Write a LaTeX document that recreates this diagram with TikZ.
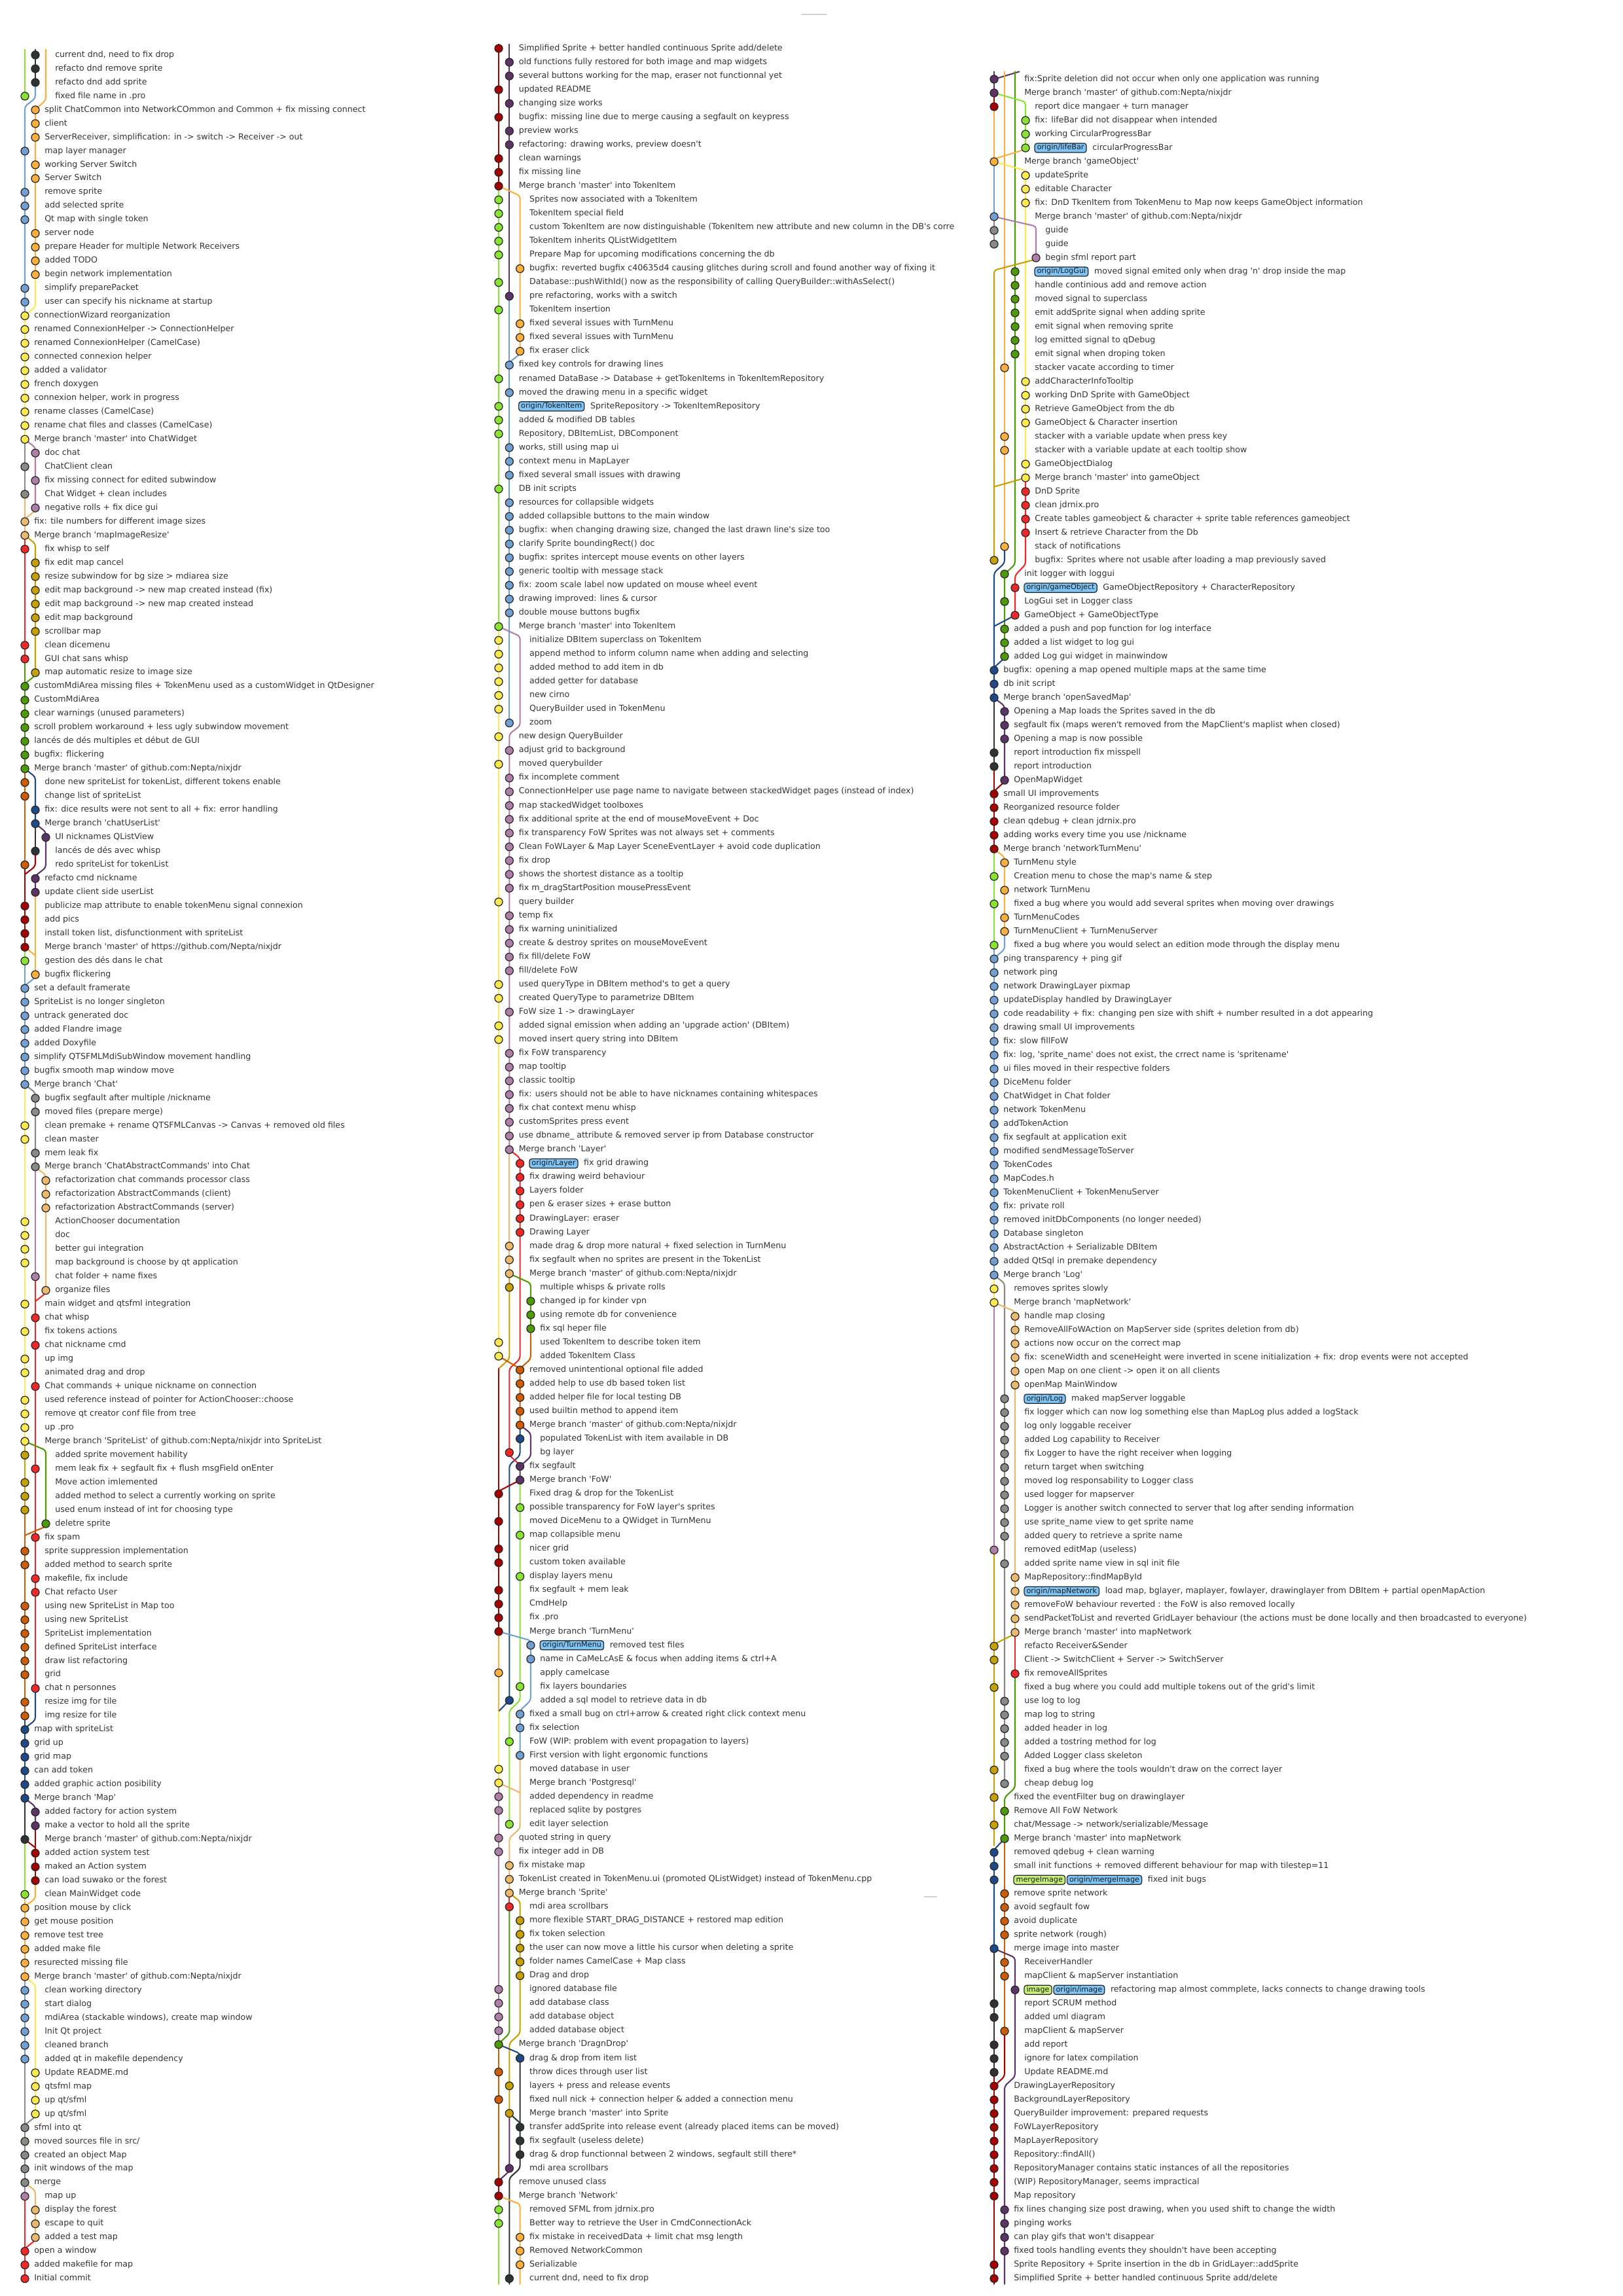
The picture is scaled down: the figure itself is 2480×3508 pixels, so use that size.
\documentclass[tikz,border=0pt]{standalone}
\usepackage{fontspec}
\newfontfamily\gitfont{DejaVu Sans}
\usetikzlibrary{positioning}

% Tango palette used by the history graph
\definecolor{cYel}{HTML}{FCE94F}
\definecolor{cOli}{HTML}{C4A000}
\definecolor{cOra}{HTML}{FCAF3E}
\definecolor{cDor}{HTML}{CE5C00}
\definecolor{cTan}{HTML}{E9B96E}
\definecolor{cLgr}{HTML}{8AE234}
\definecolor{cDgr}{HTML}{4E9A06}
\definecolor{cLbl}{HTML}{729FCF}
\definecolor{cDbl}{HTML}{204A87}
\definecolor{cLpu}{HTML}{AD7FA8}
\definecolor{cDpu}{HTML}{5C3566}
\definecolor{cRed}{HTML}{EF2929}
\definecolor{cDre}{HTML}{A40000}
\definecolor{cGra}{HTML}{888A85}
\definecolor{cDgy}{HTML}{2E3436}
\definecolor{refBlue}{HTML}{7EC4F7}
\definecolor{refGreen}{HTML}{C7F27A}

\newcount\rowno
% one commit: dot lane, dot colour, lanes in use, message
\newcommand{\gitrow}[4]{%
  \global\advance\rowno by 1 \edef\rowy{\the\rowno}%
  \node[cdot, fill=#2] (\colid d\rowy) at (#1,\rowy) {};
  \node[msg] (\colid m\rowy) at (#3-0.16,\rowy) {#4};}
% commit with a remote ref
\newcommand{\gitrowb}[5]{%
  \global\advance\rowno by 1 \edef\rowy{\the\rowno}%
  \node[cdot, fill=#2] (\colid d\rowy) at (#1,\rowy) {};
  \node[refname, fill=refBlue] (\colid r\rowy) at (#3-0.16,\rowy) {#4};
  \node[msg] (\colid m\rowy) at ([xshift=0.66mm]\colid r\rowy.east) {#5};}
% commit with a local and a remote ref
\newcommand{\gitrowbb}[6]{%
  \global\advance\rowno by 1 \edef\rowy{\the\rowno}%
  \node[cdot, fill=#2] (\colid d\rowy) at (#1,\rowy) {};
  \node[refname, fill=refGreen] (\colid g\rowy) at (#3-0.16,\rowy) {#4};
  \node[refname, fill=refBlue] (\colid r\rowy) at ([xshift=0.15mm]\colid g\rowy.east) {#5};
  \node[msg] (\colid m\rowy) at ([xshift=0.66mm]\colid r\rowy.east) {#6};}

\begin{document}
\begin{tikzpicture}[
  x=0.084677mm,
  y=-0.084677mm,
  line cap=round,
  cdot/.style={circle, draw=black!85, line width=0.3pt, minimum size=1.02mm, inner sep=0pt},
  msg/.style={anchor=west, inner sep=0pt, text=black!80,
    font=\gitfont\fontsize{3.04pt}{3.6pt}\selectfont, text height=2.25pt, text depth=0.7pt},
  refname/.style={anchor=west, draw=black!85, line width=0.3pt, rounded corners=0.3mm,
    inner xsep=0.3mm, inner ysep=0.14mm, text=black!90,
    font=\gitfont\fontsize{2.7pt}{3.2pt}\selectfont, text height=2.0pt, text depth=0.6pt},
  lane/.style={line width=0.5pt, rounded corners=0.35mm},
  faint/.style={gray!35, line width=0.4pt},
]

\fill[white] (0,0) rectangle (2480,3508);
\useasboundingbox (0,0) rectangle (2480,3508);

% stray marks of the screenshot
\draw[faint] (1225,22) -- (1263,22);
\draw[faint] (1412,2898) -- (1431,2898);

% ---------------- first column: oldest commits ----------------
\begin{scope}[shift={(38,63.03)}, x=1.3548mm, y=-1.7757mm]
\def\colid{a}\global\rowno=0
% lanes
\draw[lane, cLgr] (0,0.6) -- (0,4);
\draw[lane, cDgy] (1,0.6) -- (1,3);
\draw[lane, cLbl] (1,3) -- (1,4.15) -- (0,4.75) -- (0,20);
\draw[lane, cOra] (2,0.6) -- (2,4.3) -- (1,4.95) -- (1,17);
\draw[lane, cYel] (1,17) -- (1,19.35) -- (0,19.95);
\draw[lane, cYel] (0,20) -- (0,29);
\draw[lane, cGra] (0,29) -- (0,33);
\draw[lane, cLpu] (0,29) -- (1,29.6) -- (1,34);
\draw[lane, cTan] (0,33) -- (0,36);
\draw[lane, cTan] (1,34) -- (1,34.2) -- (0,34.8);
\draw[lane, cRed] (0,36) -- (0,45);
\draw[lane, cOli] (0,36) -- (1,36.6) -- (1,46);
\draw[lane, cDgr] (0,45) -- (0,53);
\draw[lane, cDgr] (1,46) -- (1,46.2) -- (0,46.8);
\draw[lane, cDor] (0,53) -- (0,60);
\draw[lane, cDbl] (0,53) -- (1,53.6) -- (1,57);
\draw[lane, cDgy] (1,57) -- (1,59);
\draw[lane, cDpu] (1,57) -- (2,57.6) -- (2,60.2) -- (1,60.8) -- (1,62);
\draw[lane, cDre] (1,59) -- (1,60.1) -- (0,60.7);
\draw[lane, cDre] (0,60) -- (0,66);
\draw[lane, cOra] (1,62) -- (1,68);
\draw[lane, cOra] (0,66) -- (1,66.6);
\draw[lane, cLgr] (0,66) -- (0,67);
\draw[lane, cLbl] (0,67) -- (0,76);
\draw[lane, cLbl] (1,68) -- (1,68.2) -- (0,68.8);
\draw[lane, cYel] (0,76) -- (0,102);
\draw[lane, cGra] (0,76) -- (1,76.6) -- (1,82);
\draw[lane, cLpu] (1,82) -- (1,90);
\draw[lane, cTan] (1,82) -- (2,82.6) -- (2,91);
\draw[lane, cRed] (2,91) -- (2,91.2) -- (1,91.8);
\draw[lane, cRed] (1,90) -- (1,120);
\draw[lane, cOli] (0,102) -- (0,107);
\draw[lane, cDgr] (0,102) -- (2,102.65) -- (2,108);
\draw[lane, cDor] (2,108) -- (2,108.2) -- (0,108.85);
\draw[lane, cDor] (0,107) -- (0,122);
\draw[lane, cDbl] (1,120) -- (1,122.3) -- (0,122.9);
\draw[lane, cDbl] (0,122) -- (0,128);
\draw[lane, cDgy] (0,128) -- (0,131);
\draw[lane, cDpu] (0,128) -- (1,128.6) -- (1,130);
\draw[lane, cDre] (1,130) -- (1,134);
\draw[lane, cDre] (0,131) -- (1,131.6);
\draw[lane, cLgr] (0,131) -- (0,135);
\draw[lane, cOra] (1,134) -- (1,135.3) -- (0,135.9);
\draw[lane, cOra] (0,135) -- (0,141);
\draw[lane, cLbl] (0,141) -- (0,147);
\draw[lane, cYel] (0,141) -- (1,141.6) -- (1,151);
\draw[lane, cGra] (1,151) -- (1,151.2) -- (0,151.8);
\draw[lane, cGra] (0,147) -- (0,156);
\draw[lane, cLpu] (0,156) -- (0,157);
\draw[lane, cTan] (0,156) -- (1,156.6) -- (1,160);
\draw[lane, cRed] (1,160) -- (1,160.2) -- (0,160.8);
\draw[lane, cRed] (0,157) -- (0,163);
% commits
\gitrow{1}{cDgy}{3}{current dnd, need to fix drop}
\gitrow{1}{cDgy}{3}{refacto dnd remove sprite}
\gitrow{1}{cDgy}{3}{refacto dnd add sprite}
\gitrow{0}{cLgr}{3}{fixed file name in .pro}
\gitrow{1}{cOra}{2}{split ChatCommon into NetworkCOmmon and Common + fix missing connect}
\gitrow{1}{cOra}{2}{client}
\gitrow{1}{cOra}{2}{ServerReceiver, simplification: in -> switch -> Receiver -> out}
\gitrow{0}{cLbl}{2}{map layer manager}
\gitrow{1}{cOra}{2}{working Server Switch}
\gitrow{1}{cOra}{2}{Server Switch}
\gitrow{0}{cLbl}{2}{remove sprite}
\gitrow{0}{cLbl}{2}{add selected sprite}
\gitrow{0}{cLbl}{2}{Qt map with single token}
\gitrow{1}{cOra}{2}{server node}
\gitrow{1}{cOra}{2}{prepare Header for multiple Network Receivers}
\gitrow{1}{cOra}{2}{added TODO}
\gitrow{1}{cOra}{2}{begin network implementation}
\gitrow{0}{cLbl}{2}{simplify preparePacket}
\gitrow{0}{cLbl}{2}{user can specify his nickname at startup}
\gitrow{0}{cYel}{1}{connectionWizard reorganization}
\gitrow{0}{cYel}{1}{renamed ConnexionHelper -> ConnectionHelper}
\gitrow{0}{cYel}{1}{renamed ConnexionHelper (CamelCase)}
\gitrow{0}{cYel}{1}{connected connexion helper}
\gitrow{0}{cYel}{1}{added a validator}
\gitrow{0}{cYel}{1}{french doxygen}
\gitrow{0}{cYel}{1}{connexion helper, work in progress}
\gitrow{0}{cYel}{1}{rename classes (CamelCase)}
\gitrow{0}{cYel}{1}{rename chat files and classes (CamelCase)}
\gitrow{0}{cYel}{1}{Merge branch 'master' into ChatWidget}
\gitrow{1}{cLpu}{2}{doc chat}
\gitrow{0}{cGra}{2}{ChatClient clean}
\gitrow{1}{cLpu}{2}{fix missing connect for edited subwindow}
\gitrow{0}{cGra}{2}{Chat Widget + clean includes}
\gitrow{1}{cLpu}{2}{negative rolls + fix dice gui}
\gitrow{0}{cTan}{1}{fix: tile numbers for different image sizes}
\gitrow{0}{cTan}{1}{Merge branch 'mapImageResize'}
\gitrow{0}{cRed}{2}{fix whisp to self}
\gitrow{1}{cOli}{2}{fix edit map cancel}
\gitrow{1}{cOli}{2}{resize subwindow for bg size > mdiarea size}
\gitrow{1}{cOli}{2}{edit map background -> new map created instead (fix)}
\gitrow{1}{cOli}{2}{edit map background -> new map created instead}
\gitrow{1}{cOli}{2}{edit map background}
\gitrow{1}{cOli}{2}{scrollbar map}
\gitrow{0}{cRed}{2}{clean dicemenu}
\gitrow{0}{cRed}{2}{GUI chat sans whisp}
\gitrow{1}{cOli}{2}{map automatic resize to image size}
\gitrow{0}{cDgr}{1}{customMdiArea missing files + TokenMenu used as a customWidget in QtDesigner}
\gitrow{0}{cDgr}{1}{CustomMdiArea}
\gitrow{0}{cDgr}{1}{clear warnings (unused parameters)}
\gitrow{0}{cDgr}{1}{scroll problem workaround + less ugly subwindow movement}
\gitrow{0}{cDgr}{1}{lancés de dés multiples et début de GUI}
\gitrow{0}{cDgr}{1}{bugfix: flickering}
\gitrow{0}{cDgr}{1}{Merge branch 'master' of github.com:Nepta/nixjdr}
\gitrow{0}{cDor}{2}{done new spriteList for tokenList, different tokens enable}
\gitrow{0}{cDor}{2}{change list of spriteList}
\gitrow{1}{cDbl}{2}{fix: dice results were not sent to all + fix: error handling}
\gitrow{1}{cDbl}{2}{Merge branch 'chatUserList'}
\gitrow{2}{cDpu}{3}{UI nicknames QListView}
\gitrow{1}{cDgy}{3}{lancés de dés avec whisp}
\gitrow{0}{cDor}{3}{redo spriteList for tokenList}
\gitrow{1}{cDpu}{2}{refacto cmd nickname}
\gitrow{1}{cDpu}{2}{update client side userList}
\gitrow{0}{cDre}{2}{publicize map attribute to enable tokenMenu signal connexion}
\gitrow{0}{cDre}{2}{add pics}
\gitrow{0}{cDre}{2}{install token list, disfunctionment with spriteList}
\gitrow{0}{cDre}{2}{Merge branch 'master' of https://github.com/Nepta/nixjdr}
\gitrow{0}{cLgr}{2}{gestion des dés dans le chat}
\gitrow{1}{cOra}{2}{bugfix flickering}
\gitrow{0}{cLbl}{1}{set a default framerate}
\gitrow{0}{cLbl}{1}{SpriteList is no longer singleton}
\gitrow{0}{cLbl}{1}{untrack generated doc}
\gitrow{0}{cLbl}{1}{added Flandre image}
\gitrow{0}{cLbl}{1}{added Doxyfile}
\gitrow{0}{cLbl}{1}{simplify QTSFMLMdiSubWindow movement handling}
\gitrow{0}{cLbl}{1}{bugfix smooth map window move}
\gitrow{0}{cLbl}{1}{Merge branch 'Chat'}
\gitrow{1}{cGra}{2}{bugfix segfault after multiple /nickname}
\gitrow{1}{cGra}{2}{moved files (prepare merge)}
\gitrow{0}{cYel}{2}{clean premake + rename QTSFMLCanvas -> Canvas + removed old files}
\gitrow{0}{cYel}{2}{clean master}
\gitrow{1}{cGra}{2}{mem leak fix}
\gitrow{1}{cGra}{2}{Merge branch 'ChatAbstractCommands' into Chat}
\gitrow{2}{cTan}{3}{refactorization chat commands processor class}
\gitrow{2}{cTan}{3}{refactorization AbstractCommands (client)}
\gitrow{2}{cTan}{3}{refactorization AbstractCommands (server)}
\gitrow{0}{cYel}{3}{ActionChooser documentation}
\gitrow{0}{cYel}{3}{doc}
\gitrow{0}{cYel}{3}{better gui integration}
\gitrow{0}{cYel}{3}{map background is choose by qt application}
\gitrow{1}{cLpu}{3}{chat folder + name fixes}
\gitrow{2}{cTan}{3}{organize files}
\gitrow{0}{cYel}{2}{main widget and qtsfml integration}
\gitrow{1}{cRed}{2}{chat whisp}
\gitrow{0}{cYel}{2}{fix tokens actions}
\gitrow{1}{cRed}{2}{chat nickname cmd}
\gitrow{0}{cYel}{2}{up img}
\gitrow{0}{cYel}{2}{animated drag and drop}
\gitrow{1}{cRed}{2}{Chat commands + unique nickname on connection}
\gitrow{0}{cYel}{2}{used reference instead of pointer for ActionChooser::choose}
\gitrow{0}{cYel}{2}{remove qt creator conf file from tree}
\gitrow{0}{cYel}{2}{up .pro}
\gitrow{0}{cYel}{2}{Merge branch 'SpriteList' of github.com:Nepta/nixjdr into SpriteList}
\gitrow{0}{cOli}{3}{added sprite movement hability}
\gitrow{1}{cRed}{3}{mem leak fix + segfault fix + flush msgField onEnter}
\gitrow{0}{cOli}{3}{Move action imlemented}
\gitrow{0}{cOli}{3}{added method to select a currently working on sprite}
\gitrow{0}{cOli}{3}{used enum instead of int for choosing type}
\gitrow{2}{cDgr}{3}{deletre sprite}
\gitrow{1}{cRed}{2}{fix spam}
\gitrow{0}{cDor}{2}{sprite suppression implementation}
\gitrow{0}{cDor}{2}{added method to search sprite}
\gitrow{1}{cRed}{2}{makefile, fix include}
\gitrow{1}{cRed}{2}{Chat refacto User}
\gitrow{0}{cDor}{2}{using new SpriteList in Map too}
\gitrow{0}{cDor}{2}{using new SpriteList}
\gitrow{0}{cDor}{2}{SpriteList implementation}
\gitrow{0}{cDor}{2}{defined SpriteList interface}
\gitrow{0}{cDor}{2}{draw list refactoring}
\gitrow{0}{cDor}{2}{grid}
\gitrow{1}{cRed}{2}{chat n personnes}
\gitrow{0}{cDor}{2}{resize img for tile}
\gitrow{0}{cDor}{2}{img resize for tile}
\gitrow{0}{cDbl}{1}{map with spriteList}
\gitrow{0}{cDbl}{1}{grid up}
\gitrow{0}{cDbl}{1}{grid map}
\gitrow{0}{cDbl}{1}{can add token}
\gitrow{0}{cDbl}{1}{added graphic action posibility}
\gitrow{0}{cDbl}{1}{Merge branch 'Map'}
\gitrow{1}{cDpu}{2}{added factory for action system}
\gitrow{1}{cDpu}{2}{make a vector to hold all the sprite}
\gitrow{0}{cDgy}{2}{Merge branch 'master' of github.com:Nepta/nixjdr}
\gitrow{1}{cDre}{2}{added action system test}
\gitrow{1}{cDre}{2}{maked an Action system}
\gitrow{1}{cDre}{2}{can load suwako or the forest}
\gitrow{0}{cLgr}{2}{clean MainWidget code}
\gitrow{0}{cOra}{1}{position mouse by click}
\gitrow{0}{cOra}{1}{get mouse position}
\gitrow{0}{cOra}{1}{remove test tree}
\gitrow{0}{cOra}{1}{added make file}
\gitrow{0}{cOra}{1}{resurected missing file}
\gitrow{0}{cOra}{1}{Merge branch 'master' of github.com:Nepta/nixjdr}
\gitrow{0}{cLbl}{2}{clean working directory}
\gitrow{0}{cLbl}{2}{start dialog}
\gitrow{0}{cLbl}{2}{mdiArea (stackable windows), create map window}
\gitrow{0}{cLbl}{2}{Init Qt project}
\gitrow{0}{cLbl}{2}{cleaned branch}
\gitrow{0}{cLbl}{2}{added qt in makefile dependency}
\gitrow{1}{cYel}{2}{Update README.md}
\gitrow{1}{cYel}{2}{qtsfml map}
\gitrow{1}{cYel}{2}{up qt/sfml}
\gitrow{1}{cYel}{2}{up qt/sfml}
\gitrow{0}{cGra}{1}{sfml into qt}
\gitrow{0}{cGra}{1}{moved sources file in src/}
\gitrow{0}{cGra}{1}{created an object Map}
\gitrow{0}{cGra}{1}{init windows of the map}
\gitrow{0}{cGra}{1}{merge}
\gitrow{0}{cLpu}{2}{map up}
\gitrow{1}{cTan}{2}{display the forest}
\gitrow{1}{cTan}{2}{escape to quit}
\gitrow{1}{cTan}{2}{added a test map}
\gitrow{0}{cRed}{1}{open a window}
\gitrow{0}{cRed}{1}{added makefile for map}
\gitrow{0}{cRed}{1}{Initial commit}
\end{scope}

% ---------------- second column ----------------
\begin{scope}[shift={(762,52.97)}, x=1.3802mm, y=-1.7808mm]
\def\colid{b}\global\rowno=0
% lanes
\draw[lane, cDre] (0,0.7) -- (0,11);
\draw[lane, cDpu] (1,0.7) -- (1,19);
\draw[lane, cLgr] (0,11) -- (0,43);
\draw[lane, cOra] (0,11) -- (2,11.7) -- (2,23);
\draw[lane, cLbl] (2,23) -- (2,23.2) -- (1,23.8);
\draw[lane, cLbl] (1,19) -- (1,50);
\draw[lane, cYel] (0,43) -- (0,96);
\draw[lane, cLpu] (0,43) -- (2,43.7) -- (2,50.2) -- (1,50.8) -- (1,81);
\draw[lane, cTan] (1,81) -- (1,90);
\draw[lane, cRed] (1,81) -- (2,81.6) -- (2,96.2) -- (1,96.9) -- (1,103);
\draw[lane, cOli] (1,90) -- (1,96.2) -- (0,96.9);
\draw[lane, cDgr] (1,90) -- (3,90.7) -- (3,94);
\draw[lane, cDor] (3,94) -- (3,96.2) -- (2,96.9) -- (2,101);
\draw[lane, cDor] (0,96) -- (2,96.9);
\draw[lane, cDre] (0,96.9) -- (0,116);
\draw[lane, cDbl] (2,101) -- (2,103.2) -- (1,103.9) -- (1,121);
\draw[lane, cDpu] (2,101) -- (3,101.6) -- (3,103.3) -- (2,104) -- (2,105);
\draw[lane, cRed] (1,103) -- (1,103.2) -- (2,103.9);
\draw[lane, cDre] (2,105) -- (0,105.8);
\draw[lane, cLgr] (2,105) -- (2,121) -- (1,121.75) -- (1,130);
\draw[lane, cOra] (0,116) -- (0,121.8);
\draw[lane, cLbl] (0,116) -- (3,116.65) -- (3,121) -- (2,121.75) -- (2,125);
\draw[lane, cDbl] (1,121) -- (0,121.8);
\draw[lane, cYel] (0,121.8) -- (0,127);
\draw[lane, cTan] (2,125) -- (2,130.3) -- (1,131) -- (1,135);
\draw[lane, cTan] (0,127) -- (2,127.7);
\draw[lane, cLpu] (0,127) -- (0,146);
\draw[lane, cRed] (1,135) -- (1,136);
\draw[lane, cOli] (1,135) -- (2,135.6) -- (2,145.2) -- (1,145.9) -- (1,151);
\draw[lane, cDgr] (1,136) -- (1,145.2) -- (0,145.95);
\draw[lane, cDor] (0,146) -- (0,155.9);
\draw[lane, cDbl] (0,146) -- (2,146.65) -- (2,147);
\draw[lane, cDgy] (2,147) -- (2,155) -- (1,155.7) -- (1,163.4);
\draw[lane, cDgy] (1,151) -- (2,151.7);
\draw[lane, cDpu] (1,151) -- (1,155.2) -- (0,155.9);
\draw[lane, cDre] (0,155.9) -- (0,157);
\draw[lane, cLgr] (0,157) -- (0,163.4);
\draw[lane, cOra] (0,157) -- (2,157.6) -- (2,163.4);
% commits
\gitrow{0}{cDre}{2}{Simplified Sprite + better handled continuous Sprite add/delete}
\gitrow{1}{cDpu}{2}{old functions fully restored for both image and map widgets}
\gitrow{1}{cDpu}{2}{several buttons working for the map, eraser not functionnal yet}
\gitrow{0}{cDre}{2}{updated README}
\gitrow{1}{cDpu}{2}{changing size works}
\gitrow{0}{cDre}{2}{bugfix: missing line due to merge causing a segfault on keypress}
\gitrow{1}{cDpu}{2}{preview works}
\gitrow{1}{cDpu}{2}{refactoring: drawing works, preview doesn't}
\gitrow{0}{cDre}{2}{clean warnings}
\gitrow{0}{cDre}{2}{fix missing line}
\gitrow{0}{cDre}{2}{Merge branch 'master' into TokenItem}
\gitrow{0}{cLgr}{3}{Sprites now associated with a TokenItem}
\gitrow{0}{cLgr}{3}{TokenItem special field}
\gitrow{0}{cLgr}{3}{custom TokenItem are now distinguishable (TokenItem new attribute and new column in the DB's corre}
\gitrow{0}{cLgr}{3}{TokenItem inherits QListWidgetItem}
\gitrow{0}{cLgr}{3}{Prepare Map for upcoming modifications concerning the db}
\gitrow{2}{cOra}{3}{bugfix: reverted bugfix c40635d4 causing glitches during scroll and found another way of fixing it}
\gitrow{0}{cLgr}{3}{Database::pushWithId() now as the responsibility of calling QueryBuilder::withAsSelect()}
\gitrow{1}{cDpu}{3}{pre refactoring, works with a switch}
\gitrow{0}{cLgr}{3}{TokenItem insertion}
\gitrow{2}{cOra}{3}{fixed several issues with TurnMenu}
\gitrow{2}{cOra}{3}{fixed several issues with TurnMenu}
\gitrow{2}{cOra}{3}{fix eraser click}
\gitrow{1}{cLbl}{2}{fixed key controls for drawing lines}
\gitrow{0}{cLgr}{2}{renamed DataBase -> Database + getTokenItems in TokenItemRepository}
\gitrow{1}{cLbl}{2}{moved the drawing menu in a specific widget}
\gitrowb{0}{cLgr}{2}{origin/TokenItem}{SpriteRepository -> TokenItemRepository}
\gitrow{0}{cLgr}{2}{added \& modified DB tables}
\gitrow{0}{cLgr}{2}{Repository, DBItemList, DBComponent}
\gitrow{1}{cLbl}{2}{works, still using map ui}
\gitrow{1}{cLbl}{2}{context menu in MapLayer}
\gitrow{1}{cLbl}{2}{fixed several small issues with drawing}
\gitrow{0}{cLgr}{2}{DB init scripts}
\gitrow{1}{cLbl}{2}{resources for collapsible widgets}
\gitrow{1}{cLbl}{2}{added collapsible buttons to the main window}
\gitrow{1}{cLbl}{2}{bugfix: when changing drawing size, changed the last drawn line's size too}
\gitrow{1}{cLbl}{2}{clarify Sprite boundingRect() doc}
\gitrow{1}{cLbl}{2}{bugfix: sprites intercept mouse events on other layers}
\gitrow{1}{cLbl}{2}{generic tooltip with message stack}
\gitrow{1}{cLbl}{2}{fix: zoom scale label now updated on mouse wheel event}
\gitrow{1}{cLbl}{2}{drawing improved: lines \& cursor}
\gitrow{1}{cLbl}{2}{double mouse buttons bugfix}
\gitrow{0}{cLgr}{2}{Merge branch 'master' into TokenItem}
\gitrow{0}{cYel}{3}{initialize DBItem superclass on TokenItem}
\gitrow{0}{cYel}{3}{append method to inform column name when adding and selecting}
\gitrow{0}{cYel}{3}{added method to add item in db}
\gitrow{0}{cYel}{3}{added getter for database}
\gitrow{0}{cYel}{3}{new cirno}
\gitrow{0}{cYel}{3}{QueryBuilder used in TokenMenu}
\gitrow{1}{cLbl}{3}{zoom}
\gitrow{0}{cYel}{2}{new design QueryBuilder}
\gitrow{1}{cLpu}{2}{adjust grid to background}
\gitrow{0}{cYel}{2}{moved querybuilder}
\gitrow{1}{cLpu}{2}{fix incomplete comment}
\gitrow{1}{cLpu}{2}{ConnectionHelper use page name to navigate between stackedWidget pages (instead of index)}
\gitrow{1}{cLpu}{2}{map stackedWidget toolboxes}
\gitrow{1}{cLpu}{2}{fix additional sprite at the end of mouseMoveEvent + Doc}
\gitrow{1}{cLpu}{2}{fix transparency FoW Sprites was not always set + comments}
\gitrow{1}{cLpu}{2}{Clean FoWLayer \& Map Layer SceneEventLayer + avoid code duplication}
\gitrow{1}{cLpu}{2}{fix drop}
\gitrow{1}{cLpu}{2}{shows the shortest distance as a tooltip}
\gitrow{1}{cLpu}{2}{fix m\_dragStartPosition mousePressEvent}
\gitrow{0}{cYel}{2}{query builder}
\gitrow{1}{cLpu}{2}{temp fix}
\gitrow{1}{cLpu}{2}{fix warning uninitialized}
\gitrow{1}{cLpu}{2}{create \& destroy sprites on mouseMoveEvent}
\gitrow{1}{cLpu}{2}{fix fill/delete FoW}
\gitrow{1}{cLpu}{2}{fill/delete FoW}
\gitrow{0}{cYel}{2}{used queryType in DBItem method's to get a query}
\gitrow{0}{cYel}{2}{created QueryType to parametrize DBItem}
\gitrow{1}{cLpu}{2}{FoW size 1 -> drawingLayer}
\gitrow{0}{cYel}{2}{added signal emission when adding an 'upgrade action' (DBItem)}
\gitrow{0}{cYel}{2}{moved insert query string into DBItem}
\gitrow{1}{cLpu}{2}{fix FoW transparency}
\gitrow{1}{cLpu}{2}{map tooltip}
\gitrow{1}{cLpu}{2}{classic tooltip}
\gitrow{1}{cLpu}{2}{fix: users should not be able to have nicknames containing whitespaces}
\gitrow{1}{cLpu}{2}{fix chat context menu whisp}
\gitrow{1}{cLpu}{2}{customSprites press event}
\gitrow{1}{cLpu}{2}{use dbname\_ attribute \& removed server ip from Database constructor}
\gitrow{1}{cLpu}{2}{Merge branch 'Layer'}
\gitrowb{2}{cRed}{3}{origin/Layer}{fix grid drawing}
\gitrow{2}{cRed}{3}{fix drawing weird behaviour}
\gitrow{2}{cRed}{3}{Layers folder}
\gitrow{2}{cRed}{3}{pen \& eraser sizes + erase button}
\gitrow{2}{cRed}{3}{DrawingLayer: eraser}
\gitrow{2}{cRed}{3}{Drawing Layer}
\gitrow{1}{cTan}{3}{made drag \& drop more natural + fixed selection in TurnMenu}
\gitrow{1}{cTan}{3}{fix segfault when no sprites are present in the TokenList}
\gitrow{1}{cTan}{3}{Merge branch 'master' of github.com:Nepta/nixjdr}
\gitrow{1}{cOli}{4}{multiple whisps \& private rolls}
\gitrow{3}{cDgr}{4}{changed ip for kinder vpn}
\gitrow{3}{cDgr}{4}{using remote db for convenience}
\gitrow{3}{cDgr}{4}{fix sql heper file}
\gitrow{0}{cYel}{4}{used TokenItem to describe token item}
\gitrow{0}{cYel}{4}{added TokenItem Class}
\gitrow{2}{cDor}{3}{removed unintentional optional file added}
\gitrow{2}{cDor}{3}{added help to use db based token list}
\gitrow{2}{cDor}{3}{added helper file for local testing DB}
\gitrow{2}{cDor}{3}{used builtin method to append item}
\gitrow{2}{cDor}{3}{Merge branch 'master' of github.com:Nepta/nixjdr}
\gitrow{2}{cDbl}{4}{populated TokenList with item available in DB}
\gitrow{1}{cRed}{4}{bg layer}
\gitrow{2}{cDpu}{3}{fix segfault}
\gitrow{2}{cDpu}{3}{Merge branch 'FoW'}
\gitrow{0}{cDre}{3}{Fixed drag \& drop for the TokenList}
\gitrow{2}{cLgr}{3}{possible transparency for FoW layer's sprites}
\gitrow{0}{cDre}{3}{moved DiceMenu to a QWidget in TurnMenu}
\gitrow{2}{cLgr}{3}{map collapsible menu}
\gitrow{0}{cDre}{3}{nicer grid}
\gitrow{0}{cDre}{3}{custom token available}
\gitrow{2}{cLgr}{3}{display layers menu}
\gitrow{0}{cDre}{3}{fix segfault + mem leak}
\gitrow{0}{cDre}{3}{CmdHelp}
\gitrow{0}{cDre}{3}{fix .pro}
\gitrow{0}{cDre}{3}{Merge branch 'TurnMenu'}
\gitrowb{3}{cLbl}{4}{origin/TurnMenu}{removed test files}
\gitrow{3}{cLbl}{4}{name in CaMeLcAsE \& focus when adding items \& ctrl+A}
\gitrow{0}{cOra}{4}{apply camelcase}
\gitrow{2}{cLgr}{4}{fix layers boundaries}
\gitrow{1}{cDbl}{4}{added a sql model to retrieve data in db}
\gitrow{2}{cLbl}{3}{fixed a small bug on ctrl+arrow \& created right click context menu}
\gitrow{2}{cLbl}{3}{fix selection}
\gitrow{1}{cLgr}{3}{FoW (WIP: problem with event propagation to layers)}
\gitrow{2}{cLbl}{3}{First version with light ergonomic functions}
\gitrow{0}{cYel}{3}{moved database in user}
\gitrow{0}{cYel}{3}{Merge branch 'Postgresql'}
\gitrow{0}{cLpu}{3}{added dependency in readme}
\gitrow{0}{cLpu}{3}{replaced sqlite by postgres}
\gitrow{1}{cLgr}{3}{edit layer selection}
\gitrow{0}{cLpu}{2}{quoted string in query}
\gitrow{0}{cLpu}{2}{fix integer add in DB}
\gitrow{1}{cTan}{2}{fix mistake map}
\gitrow{1}{cTan}{2}{TokenList created in TokenMenu.ui (promoted QListWidget) instead of TokenMenu.cpp}
\gitrow{1}{cTan}{2}{Merge branch 'Sprite'}
\gitrow{1}{cRed}{3}{mdi area scrollbars}
\gitrow{2}{cOli}{3}{more flexible START\_DRAG\_DISTANCE + restored map edition}
\gitrow{2}{cOli}{3}{fix token selection}
\gitrow{2}{cOli}{3}{the user can now move a little his cursor when deleting a sprite}
\gitrow{2}{cOli}{3}{folder names CamelCase + Map class}
\gitrow{2}{cOli}{3}{Drag and drop}
\gitrow{0}{cLpu}{3}{ignored database file}
\gitrow{0}{cLpu}{3}{add database class}
\gitrow{0}{cLpu}{3}{add database object}
\gitrow{0}{cLpu}{3}{added database object}
\gitrow{0}{cDgr}{2}{Merge branch 'DragnDrop'}
\gitrow{2}{cDbl}{3}{drag \& drop from item list}
\gitrow{0}{cDor}{3}{throw dices through user list}
\gitrow{1}{cOli}{3}{layers + press and release events}
\gitrow{0}{cDor}{3}{fixed null nick + connection helper \& added a connection menu}
\gitrow{1}{cOli}{3}{Merge branch 'master' into Sprite}
\gitrow{2}{cDgy}{3}{transfer addSprite into release event (already placed items can be moved)}
\gitrow{2}{cDgy}{3}{fix segfault (useless delete)}
\gitrow{2}{cDgy}{3}{drag \& drop functionnal between 2 windows, segfault still there*}
\gitrow{1}{cDpu}{3}{mdi area scrollbars}
\gitrow{0}{cDre}{2}{remove unused class}
\gitrow{0}{cDre}{2}{Merge branch 'Network'}
\gitrow{0}{cLgr}{3}{removed SFML from jdrnix.pro}
\gitrow{0}{cLgr}{3}{Better way to retrieve the User in CmdConnectionAck}
\gitrow{2}{cOra}{3}{fix mistake in receivedData + limit chat msg length}
\gitrow{2}{cOra}{3}{Removed NetworkCommon}
\gitrow{2}{cOra}{3}{Serializable}
\gitrow{1}{cDgy}{3}{current dnd, need to fix drop}
\end{scope}

% ---------------- third column: newest commits ----------------
\begin{scope}[shift={(1519,100)}, x=1.3548mm, y=-1.7782mm]
\def\colid{c}\global\rowno=0
% lanes
\draw[lane, cDpu] (0,0.45) -- (0,2);
\draw[lane, cDpu] (0,1) -- (2.4,0.45);
\draw[lane, cOra] (1,0.45) -- (1,35);
\draw[lane, cDgr] (2,0.45) -- (2,36.3) -- (1,37) -- (1,43);
\draw[lane, cDre] (0,2) -- (0,3);
\draw[lane, cLgr] (0,2) -- (3,2.65) -- (3,6);
\draw[lane, cOra] (3,6) -- (3,6.1) -- (0,6.8);
\draw[lane, cOra] (0,3) -- (0,7);
\draw[lane, cLbl] (0,7) -- (0,11);
\draw[lane, cYel] (0,7) -- (3,7.65) -- (3,30);
\draw[lane, cGra] (0,11) -- (0,13);
\draw[lane, cLpu] (0,11) -- (4,11.7) -- (4,14);
\draw[lane, cOli] (4,14) -- (4,14.1) -- (0,14.9) -- (0,36);
\draw[lane, cOli] (3,30) -- (0,30.65);
\draw[lane, cRed] (3,30) -- (3,36.3) -- (2,37.1) -- (2,40);
\draw[lane, cDbl] (1,35) -- (1,36.2) -- (0,36.9) -- (0,46);
\draw[lane, cDbl] (2,40) -- (0,40.8);
\draw[lane, cDbl] (1,43) -- (1,43.1) -- (0,43.8);
\draw[lane, cDgy] (0,46) -- (0,51);
\draw[lane, cDpu] (0,46) -- (1,46.6) -- (1,52);
\draw[lane, cDre] (1,52) -- (1,52.1) -- (0,52.8);
\draw[lane, cDre] (0,51) -- (0,57);
\draw[lane, cLgr] (0,57) -- (0,64);
\draw[lane, cOra] (0,57) -- (1,57.6) -- (1,63);
\draw[lane, cLbl] (1,63) -- (1,64.3) -- (0,64.95);
\draw[lane, cLbl] (0,64) -- (0,88);
\draw[lane, cYel] (0,88) -- (0,90);
\draw[lane, cGra] (0,88) -- (1,88.6) -- (1,125);
\draw[lane, cLpu] (0,90) -- (0,108);
\draw[lane, cTan] (0,90) -- (2,90.65) -- (2,114);
\draw[lane, cOli] (0,108) -- (0,129.5);
\draw[lane, cOli] (2,114) -- (2,114.1) -- (0,114.85);
\draw[lane, cRed] (2,114) -- (2,117);
\draw[lane, cDgr] (2,117) -- (2,125.3) -- (1,126) -- (1,129);
\draw[lane, cDbl] (1,129) -- (0,129.8) -- (0,137);
\draw[lane, cDor] (1,129) -- (1,143);
\draw[lane, cDgy] (0,137) -- (0,146);
\draw[lane, cDpu] (0,137) -- (2,137.65) -- (2,146.3) -- (1,147) -- (1,161.4);
\draw[lane, cDre] (1,143) -- (1,146.3) -- (0,147);
\draw[lane, cDre] (0,146) -- (0,161.4);
% commits
\gitrow{0}{cDpu}{3}{fix:Sprite deletion did not occur when only one application was running}
\gitrow{0}{cDpu}{3}{Merge branch 'master' of github.com:Nepta/nixjdr}
\gitrow{0}{cDre}{4}{report dice mangaer + turn manager}
\gitrow{3}{cLgr}{4}{fix: lifeBar did not disappear when intended}
\gitrow{3}{cLgr}{4}{working CircularProgressBar}
\gitrowb{3}{cLgr}{4}{origin/lifeBar}{circularProgressBar}
\gitrow{0}{cOra}{3}{Merge branch 'gameObject'}
\gitrow{3}{cYel}{4}{updateSprite}
\gitrow{3}{cYel}{4}{editable Character}
\gitrow{3}{cYel}{4}{fix: DnD TkenItem from TokenMenu to Map now keeps GameObject information}
\gitrow{0}{cLbl}{4}{Merge branch 'master' of github.com:Nepta/nixjdr}
\gitrow{0}{cGra}{5}{guide}
\gitrow{0}{cGra}{5}{guide}
\gitrow{4}{cLpu}{5}{begin sfml report part}
\gitrowb{2}{cDgr}{4}{origin/LogGui}{moved signal emited only when drag 'n' drop inside the map}
\gitrow{2}{cDgr}{4}{handle continious add and remove action}
\gitrow{2}{cDgr}{4}{moved signal to superclass}
\gitrow{2}{cDgr}{4}{emit addSprite signal when adding sprite}
\gitrow{2}{cDgr}{4}{emit signal when removing sprite}
\gitrow{2}{cDgr}{4}{log emitted signal to qDebug}
\gitrow{2}{cDgr}{4}{emit signal when droping token}
\gitrow{1}{cOra}{4}{stacker vacate according to timer}
\gitrow{3}{cYel}{4}{addCharacterInfoTooltip}
\gitrow{3}{cYel}{4}{working DnD Sprite with GameObject}
\gitrow{3}{cYel}{4}{Retrieve GameObject from the db}
\gitrow{3}{cYel}{4}{GameObject \& Character insertion}
\gitrow{1}{cOra}{4}{stacker with a variable update when press key}
\gitrow{1}{cOra}{4}{stacker with a variable update at each tooltip show}
\gitrow{3}{cYel}{4}{GameObjectDialog}
\gitrow{3}{cYel}{4}{Merge branch 'master' into gameObject}
\gitrow{3}{cRed}{4}{DnD Sprite}
\gitrow{3}{cRed}{4}{clean jdrnix.pro}
\gitrow{3}{cRed}{4}{Create tables gameobject \& character + sprite table references gameobject}
\gitrow{3}{cRed}{4}{Insert \& retrieve Character from the Db}
\gitrow{1}{cOra}{4}{stack of notifications}
\gitrow{0}{cOli}{4}{bugfix: Sprites where not usable after loading a map previously saved}
\gitrow{1}{cDgr}{3}{init logger with loggui}
\gitrowb{2}{cRed}{3}{origin/gameObject}{GameObjectRepository + CharacterRepository}
\gitrow{1}{cDgr}{3}{LogGui set in Logger class}
\gitrow{2}{cRed}{3}{GameObject + GameObjectType}
\gitrow{1}{cDgr}{2}{added a push and pop function for log interface}
\gitrow{1}{cDgr}{2}{added a list widget to log gui}
\gitrow{1}{cDgr}{2}{added Log gui widget in mainwindow}
\gitrow{0}{cDbl}{1}{bugfix: opening a map opened multiple maps at the same time}
\gitrow{0}{cDbl}{1}{db init script}
\gitrow{0}{cDbl}{1}{Merge branch 'openSavedMap'}
\gitrow{1}{cDpu}{2}{Opening a Map loads the Sprites saved in the db}
\gitrow{1}{cDpu}{2}{segfault fix (maps weren't removed from the MapClient's maplist when closed)}
\gitrow{1}{cDpu}{2}{Opening a map is now possible}
\gitrow{0}{cDgy}{2}{report introduction fix misspell}
\gitrow{0}{cDgy}{2}{report introduction}
\gitrow{1}{cDpu}{2}{OpenMapWidget}
\gitrow{0}{cDre}{1}{small UI improvements}
\gitrow{0}{cDre}{1}{Reorganized resource folder}
\gitrow{0}{cDre}{1}{clean qdebug + clean jdrnix.pro}
\gitrow{0}{cDre}{1}{adding works every time you use /nickname}
\gitrow{0}{cDre}{1}{Merge branch 'networkTurnMenu'}
\gitrow{1}{cOra}{2}{TurnMenu style}
\gitrow{0}{cLgr}{2}{Creation menu to chose the map's name \& step}
\gitrow{1}{cOra}{2}{network TurnMenu}
\gitrow{0}{cLgr}{2}{fixed a bug where you would add several sprites when moving over drawings}
\gitrow{1}{cOra}{2}{TurnMenuCodes}
\gitrow{1}{cOra}{2}{TurnMenuClient + TurnMenuServer}
\gitrow{0}{cLgr}{2}{fixed a bug where you would select an edition mode through the display menu}
\gitrow{0}{cLbl}{1}{ping transparency + ping gif}
\gitrow{0}{cLbl}{1}{network ping}
\gitrow{0}{cLbl}{1}{network DrawingLayer pixmap}
\gitrow{0}{cLbl}{1}{updateDisplay handled by DrawingLayer}
\gitrow{0}{cLbl}{1}{code readability + fix: changing pen size with shift + number resulted in a dot appearing}
\gitrow{0}{cLbl}{1}{drawing small UI improvements}
\gitrow{0}{cLbl}{1}{fix: slow fillFoW}
\gitrow{0}{cLbl}{1}{fix: log, 'sprite\_name' does not exist, the crrect name is 'spritename'}
\gitrow{0}{cLbl}{1}{ui files moved in their respective folders}
\gitrow{0}{cLbl}{1}{DiceMenu folder}
\gitrow{0}{cLbl}{1}{ChatWidget in Chat folder}
\gitrow{0}{cLbl}{1}{network TokenMenu}
\gitrow{0}{cLbl}{1}{addTokenAction}
\gitrow{0}{cLbl}{1}{fix segfault at application exit}
\gitrow{0}{cLbl}{1}{modified sendMessageToServer}
\gitrow{0}{cLbl}{1}{TokenCodes}
\gitrow{0}{cLbl}{1}{MapCodes.h}
\gitrow{0}{cLbl}{1}{TokenMenuClient + TokenMenuServer}
\gitrow{0}{cLbl}{1}{fix: private roll}
\gitrow{0}{cLbl}{1}{removed initDbComponents (no longer needed)}
\gitrow{0}{cLbl}{1}{Database singleton}
\gitrow{0}{cLbl}{1}{AbstractAction + Serializable DBItem}
\gitrow{0}{cLbl}{1}{added QtSql in premake dependency}
\gitrow{0}{cLbl}{1}{Merge branch 'Log'}
\gitrow{0}{cYel}{2}{removes sprites slowly}
\gitrow{0}{cYel}{2}{Merge branch 'mapNetwork'}
\gitrow{2}{cTan}{3}{handle map closing}
\gitrow{2}{cTan}{3}{RemoveAllFoWAction on MapServer side (sprites deletion from db)}
\gitrow{2}{cTan}{3}{actions now occur on the correct map}
\gitrow{2}{cTan}{3}{fix: sceneWidth and sceneHeight were inverted in scene initialization + fix: drop events were not accepted}
\gitrow{2}{cTan}{3}{open Map on one client -> open it on all clients}
\gitrow{2}{cTan}{3}{openMap MainWindow}
\gitrowb{1}{cGra}{3}{origin/Log}{maked mapServer loggable}
\gitrow{1}{cGra}{3}{fix logger which can now log something else than MapLog plus added a logStack}
\gitrow{1}{cGra}{3}{log only loggable receiver}
\gitrow{1}{cGra}{3}{added Log capability to Receiver}
\gitrow{1}{cGra}{3}{fix Logger to have the right receiver when logging}
\gitrow{1}{cGra}{3}{return target when switching}
\gitrow{1}{cGra}{3}{moved log responsability to Logger class}
\gitrow{1}{cGra}{3}{used logger for mapserver}
\gitrow{1}{cGra}{3}{Logger is another switch connected to server that log after sending information}
\gitrow{1}{cGra}{3}{use sprite\_name view to get sprite name}
\gitrow{1}{cGra}{3}{added query to retrieve a sprite name}
\gitrow{0}{cLpu}{3}{removed editMap (useless)}
\gitrow{1}{cGra}{3}{added sprite name view in sql init file}
\gitrow{2}{cTan}{3}{MapRepository::findMapById}
\gitrowb{2}{cTan}{3}{origin/mapNetwork}{load map, bglayer, maplayer, fowlayer, drawinglayer from DBItem + partial openMapAction}
\gitrow{2}{cTan}{3}{removeFoW behaviour reverted : the FoW is also removed locally}
\gitrow{2}{cTan}{3}{sendPacketToList and reverted GridLayer behaviour (the actions must be done locally and then broadcasted to everyone)}
\gitrow{2}{cTan}{3}{Merge branch 'master' into mapNetwork}
\gitrow{0}{cOli}{3}{refacto Receiver\&Sender}
\gitrow{0}{cOli}{3}{Client -> SwitchClient + Server -> SwitchServer}
\gitrow{2}{cRed}{3}{fix removeAllSprites}
\gitrow{0}{cOli}{3}{fixed a bug where you could add multiple tokens out of the grid's limit}
\gitrow{1}{cGra}{3}{use log to log}
\gitrow{1}{cGra}{3}{map log to string}
\gitrow{1}{cGra}{3}{added header in log}
\gitrow{1}{cGra}{3}{added a tostring method for log}
\gitrow{1}{cGra}{3}{Added Logger class skeleton}
\gitrow{0}{cOli}{3}{fixed a bug where the tools wouldn't draw on the correct layer}
\gitrow{1}{cGra}{3}{cheap debug log}
\gitrow{0}{cOli}{2}{fixed the eventFilter bug on drawinglayer}
\gitrow{1}{cDgr}{2}{Remove All FoW Network}
\gitrow{0}{cOli}{2}{chat/Message -> network/serializable/Message}
\gitrow{1}{cDgr}{2}{Merge branch 'master' into mapNetwork}
\gitrow{0}{cDbl}{2}{removed qdebug + clean warning}
\gitrow{0}{cDbl}{2}{small init functions + removed different behaviour for map with tilestep=11}
\gitrowbb{0}{cDbl}{2}{mergeImage}{origin/mergeImage}{fixed init bugs}
\gitrow{1}{cDor}{2}{remove sprite network}
\gitrow{1}{cDor}{2}{avoid segfault fow}
\gitrow{1}{cDor}{2}{avoid duplicate}
\gitrow{1}{cDor}{2}{sprite network (rough)}
\gitrow{0}{cDbl}{2}{merge image into master}
\gitrow{1}{cDor}{3}{ReceiverHandler}
\gitrow{1}{cDor}{3}{mapClient \& mapServer instantiation}
\gitrowbb{2}{cDpu}{3}{image}{origin/image}{refactoring map almost commplete, lacks connects to change drawing tools}
\gitrow{0}{cDgy}{3}{report SCRUM method}
\gitrow{0}{cDgy}{3}{added uml diagram}
\gitrow{1}{cDor}{3}{mapClient \& mapServer}
\gitrow{0}{cDgy}{3}{add report}
\gitrow{0}{cDgy}{3}{ignore for latex compilation}
\gitrow{0}{cDgy}{3}{Update README.md}
\gitrow{0}{cDre}{2}{DrawingLayerRepository}
\gitrow{0}{cDre}{2}{BackgroundLayerRepository}
\gitrow{0}{cDre}{2}{QueryBuilder improvement: prepared requests}
\gitrow{0}{cDre}{2}{FoWLayerRepository}
\gitrow{0}{cDre}{2}{MapLayerRepository}
\gitrow{0}{cDre}{2}{Repository::findAll()}
\gitrow{0}{cDre}{2}{RepositoryManager contains static instances of all the repositories}
\gitrow{0}{cDre}{2}{(WIP) RepositoryManager, seems impractical}
\gitrow{0}{cDre}{2}{Map repository}
\gitrow{1}{cDpu}{2}{fix lines changing size post drawing, when you used shift to change the width}
\gitrow{1}{cDpu}{2}{pinging works}
\gitrow{1}{cDpu}{2}{can play gifs that won't disappear}
\gitrow{1}{cDpu}{2}{fixed tools handling events they shouldn't have been accepting}
\gitrow{0}{cDre}{2}{Sprite Repository + Sprite insertion in the db in GridLayer::addSprite}
\gitrow{0}{cDre}{2}{Simplified Sprite + better handled continuous Sprite add/delete}
\end{scope}

\end{tikzpicture}
\end{document}
